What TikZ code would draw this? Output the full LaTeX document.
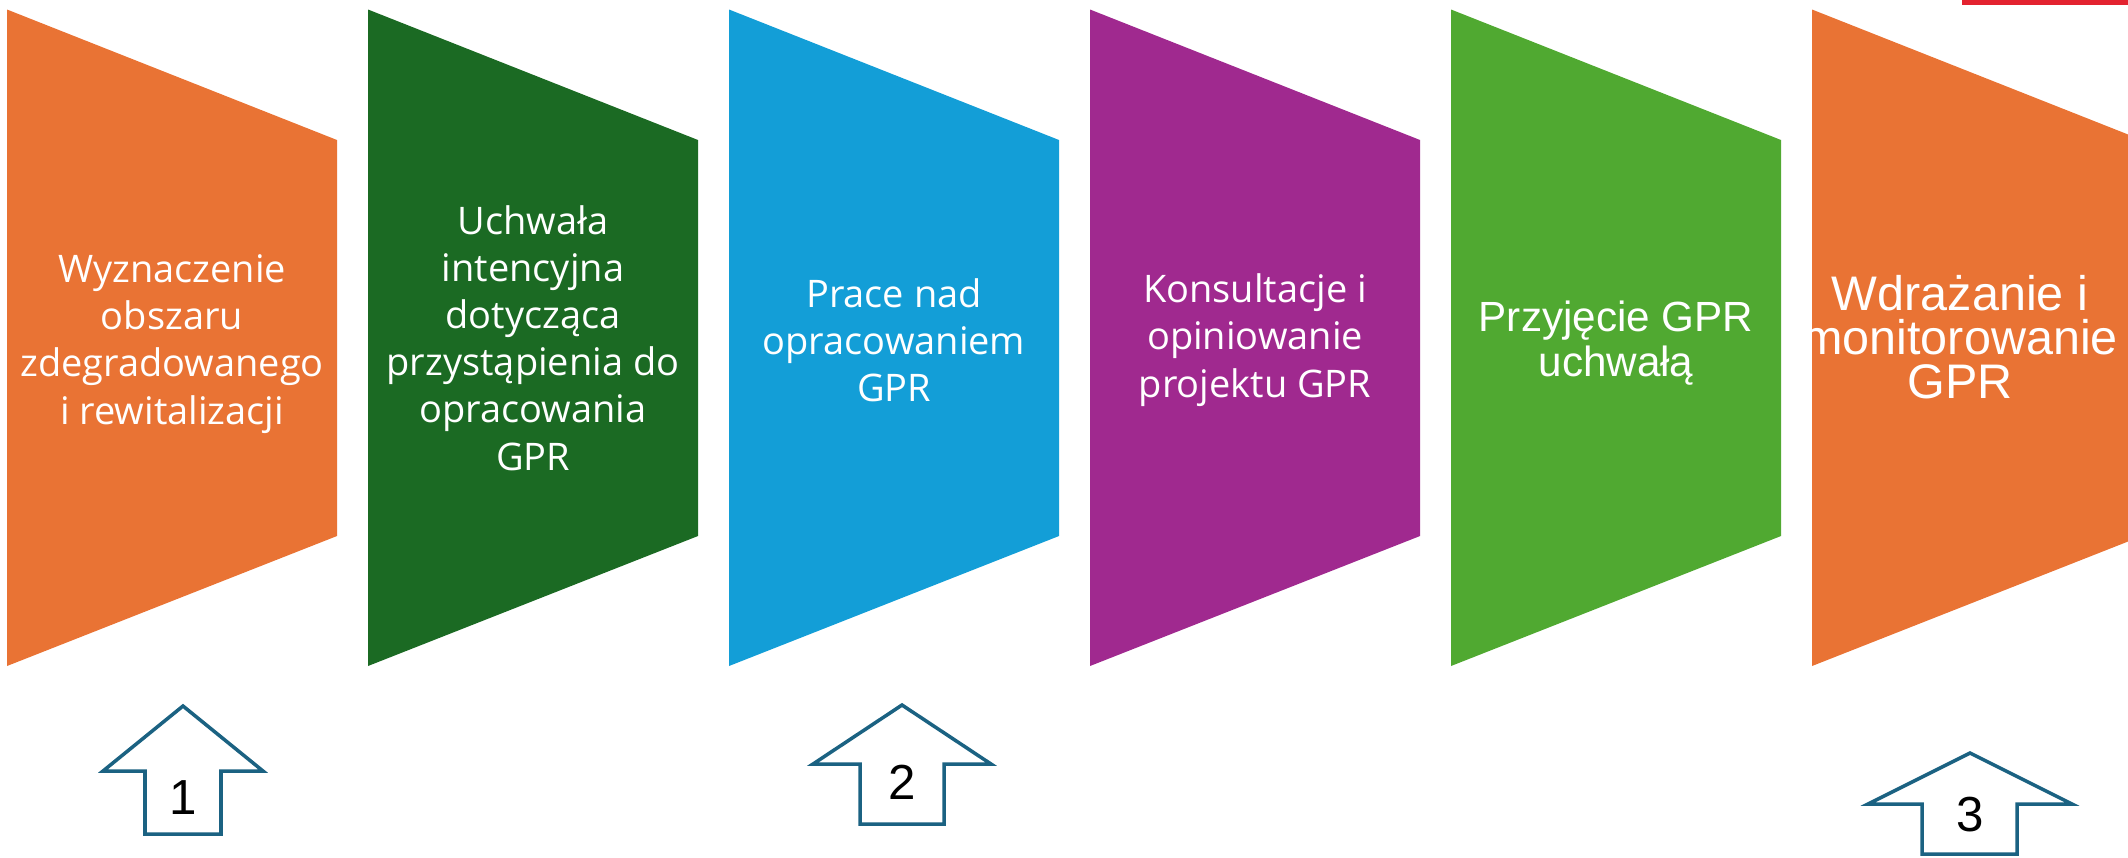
\documentclass[tikz,border=0pt]{standalone}
\usepackage{fontspec}
\setmainfont{Open Sans}
\newfontfamily\arialfont{Liberation Sans}
\usepackage{xcolor}
\usepackage{tikz}
\usetikzlibrary{positioning}
\definecolor{stageorange}{HTML}{E97334}
\definecolor{stagedarkgreen}{HTML}{1B6A23}
\definecolor{stageblue}{HTML}{139ED7}
\definecolor{stagepurple}{HTML}{A0298F}
\definecolor{stagegreen}{HTML}{50A931}
\definecolor{barred}{HTML}{E3222F}
\definecolor{arrowblue}{HTML}{1B6282}

\begin{document}
\begin{tikzpicture}[x=0.01cm,y=-0.01cm,
	stagetext/.style={text=white,align=center,font=\fontsize{10.8}{13.4}\selectfont},
	stagearial/.style={text=white,align=center,font=\arialfont\fontsize{12}{13}\selectfont},
	stagebig/.style={text=white,align=center,font=\arialfont\fontsize{13.8}{12.6}\selectfont},
	uparrow/.style={draw=arrowblue,line width=1pt,fill=white,line join=miter},
	numtext/.style={font=\arialfont\fontsize{14}{16}\selectfont}]
	\useasboundingbox (0,0) rectangle (2128,857);
		\fill[barred] (1962,0) rectangle (2128,5);
	% stages
		\fill[stageorange] (7,9.5)--(337,140)--(337,536)--(7,666)--cycle;
			\node[stagetext] (s1) at (172,344) {Wyznaczenie\\obszaru\\zdegradowanego\\i rewitalizacji};
		\fill[stagedarkgreen] (368,9.5)--(698,140)--(698,536)--(368,666)--cycle;
			\node[stagetext] (s2) at (533,338) {Uchwała\\intencyjna\\dotycząca\\przystąpienia do\\opracowania\\GPR};
		\fill[stageblue] (729,9.5)--(1059,140)--(1059,536)--(729,666)--cycle;
			\node[stagetext] (s3) at (894,340) {Prace nad\\opracowaniem\\GPR};
		\fill[stagepurple] (1090,9.5)--(1420,140)--(1420,536)--(1090,666)--cycle;
			\node[stagetext] (s4) at (1255,340) {Konsultacje i\\opiniowanie\\projektu GPR};
		\fill[stagegreen] (1451,9.5)--(1781,140)--(1781,536)--(1451,666)--cycle;
			\node[stagearial] (s5) at (1616,343) {Przyjęcie GPR\\uchwałą};
		\fill[stageorange] (1812,9.5)--(2142,140)--(2142,536)--(1812,666)--cycle;
			\node[stagebig] (s6) at (1960,337) {Wdrażanie i\\monitorowanie\\GPR};
	% arrows
		\draw[uparrow] (183,706)--(263,771)--(221,771)--(221,834)--(145,834)--(145,771)--(103,771)--cycle;
			\node[numtext] (n1) at (183,798) {1};
		\draw[uparrow] (902,705)--(991,764)--(944,764)--(944,824)--(860,824)--(860,764)--(813,764)--cycle;
			\node[numtext] (n2) at (902,782) {2};
		\draw[uparrow] (1970,753)--(2072,804)--(2017,804)--(2017,854)--(1922,854)--(1922,804)--(1868,804)--cycle;
			\node[numtext] (n3) at (1970,815) {3};
\end{tikzpicture}
\end{document}
